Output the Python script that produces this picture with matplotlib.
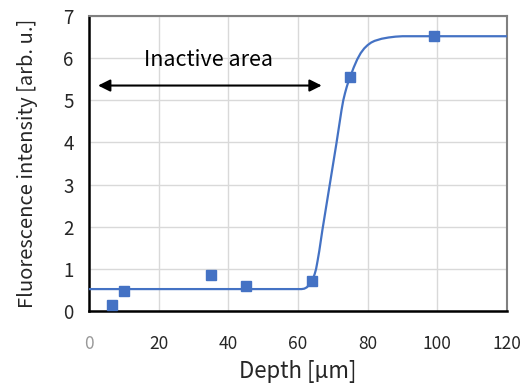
import matplotlib
matplotlib.use("Agg")
import matplotlib.pyplot as plt

plt.rcParams['font.family'] = ['Noto Sans CJK JP', 'DejaVu Sans']

# measured points
depth = [6.5, 10, 35, 45, 64, 75, 99]
intensity = [0.15, 0.48, 0.85, 0.6, 0.72, 5.55, 6.52]

# fitted curve
fit_x = [0, 61, 61.8, 62.5, 63.1, 63.6, 64, 64.4, 64.8, 65.2, 65.6, 66.1, 67, 68, 69, 70,
         71, 72, 72.5, 73, 73.5, 74, 74.5, 75, 76, 77, 78, 79, 80, 81, 82, 84, 86, 88, 90,
         95, 120]
fit_y = [0.52, 0.52, 0.53, 0.56, 0.61, 0.67, 0.72, 0.79, 0.88, 1.0, 1.18, 1.42, 1.92, 2.43, 2.94,
         3.45, 3.96, 4.5, 4.77, 5.0, 5.17, 5.32, 5.45, 5.56, 5.78, 5.97, 6.12, 6.23, 6.31, 6.37,
         6.41, 6.46, 6.49, 6.51, 6.52, 6.52, 6.52]

xticks = [0, 20, 40, 60, 80, 100, 120]
yticks = [0, 1, 2, 3, 4, 5, 6, 7]

blue = '#4472C4'

fig = plt.figure(figsize=(5.2, 3.86), dpi=100)
ax = fig.add_axes([89 / 520, 1 - 311 / 386, (507 - 89) / 520, (311 - 16) / 386])

ax.plot(fit_x, fit_y, color=blue, lw=1.6, zorder=3)
ax.plot(depth, intensity, ls='none', marker='s', ms=7, color=blue, zorder=4)

ax.set_xlim(0, 120)
ax.set_ylim(0, 7)
ax.set_xticks(xticks)
ax.set_yticks(yticks)
ax.grid(True, color='#d9d9d9', lw=1)
ax.set_axisbelow(True)
ax.tick_params(length=0, labelsize=13.5, colors='#262626')
ax.tick_params(axis='x', pad=17, labelsize=12.5)
ax.tick_params(axis='y', pad=11)
ax.get_xticklabels()[0].set_color('#999999')

for s in ['left', 'bottom']:
    ax.spines[s].set_color('black')
    ax.spines[s].set_linewidth(1.8)
for s in ['top', 'right']:
    ax.spines[s].set_color('#808080')
    ax.spines[s].set_linewidth(1.5)

ax.set_xlabel('Depth [µm]', fontsize=16, labelpad=5, color='#262626')
ax.set_ylabel('Fluorescence intensity [arb. u.]', fontsize=14.5, labelpad=18, color='#262626')

ax.annotate('', xy=(2.6, 5.35), xytext=(66.8, 5.35),
            arrowprops=dict(arrowstyle='<|-|>', color='black', lw=1.5,
                            mutation_scale=18, shrinkA=0, shrinkB=0))
ax.text(34.3, 5.82, 'Inactive area', fontsize=15.5, ha='center', va='baseline')

fig.savefig('out.png', dpi=100)
